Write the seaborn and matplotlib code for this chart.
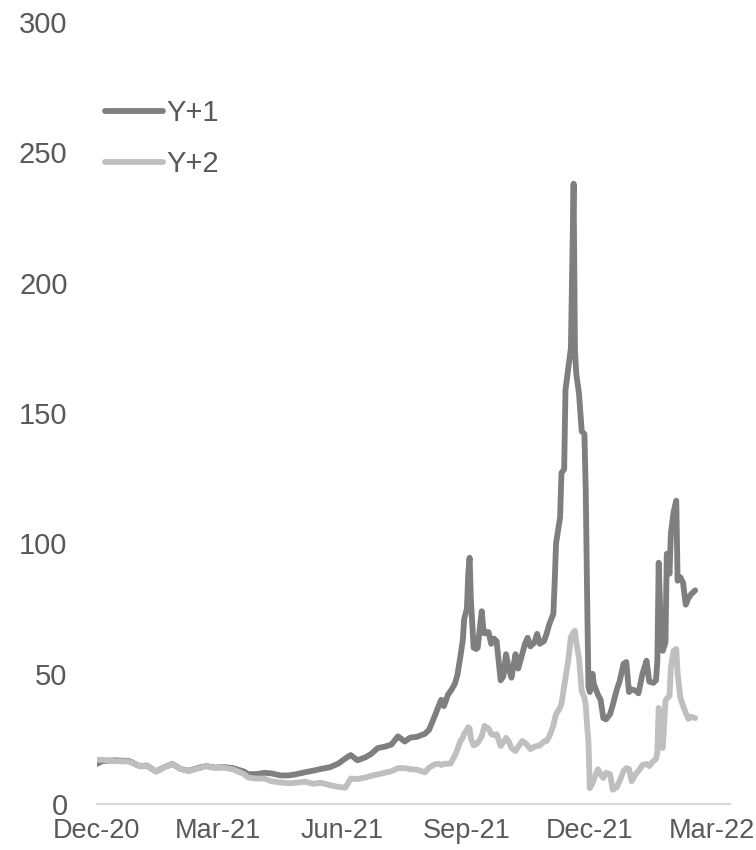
import pandas as pd
import matplotlib.pyplot as plt
import matplotlib.dates as mdates
import seaborn as sns

# values
dates = [
    '2020-12-01', '2020-12-05', '2020-12-14', '2020-12-25', '2021-01-02', '2021-01-07',
    '2021-01-14', '2021-01-20', '2021-01-26', '2021-02-01', '2021-02-07', '2021-02-15',
    '2021-02-20', '2021-02-26', '2021-03-05', '2021-03-12', '2021-03-20', '2021-03-23',
    '2021-03-29', '2021-04-04', '2021-04-09', '2021-04-16', '2021-04-22', '2021-04-28',
    '2021-05-04', '2021-05-10', '2021-05-16', '2021-05-23', '2021-05-29', '2021-06-03',
    '2021-06-07', '2021-06-12', '2021-06-18', '2021-06-22', '2021-06-27', '2021-07-02',
    '2021-07-07', '2021-07-12', '2021-07-17', '2021-07-21', '2021-07-26', '2021-08-01',
    '2021-08-04', '2021-08-08', '2021-08-11', '2021-08-13', '2021-08-15', '2021-08-18',
    '2021-08-20', '2021-08-23', '2021-08-25', '2021-08-27', '2021-08-29', '2021-08-30',
    '2021-09-01', '2021-09-02', '2021-09-03', '2021-09-04', '2021-09-06', '2021-09-08',
    '2021-09-09', '2021-09-12', '2021-09-13', '2021-09-14', '2021-09-17', '2021-09-19',
    '2021-09-21', '2021-09-23', '2021-09-26', '2021-09-28', '2021-09-30', '2021-10-02',
    '2021-10-04', '2021-10-07', '2021-10-09', '2021-10-12', '2021-10-14', '2021-10-16',
    '2021-10-18', '2021-10-21', '2021-10-23', '2021-10-25', '2021-10-28', '2021-10-30',
    '2021-11-01', '2021-11-04', '2021-11-05', '2021-11-06', '2021-11-09', '2021-11-10',
    '2021-11-12', '2021-11-13', '2021-11-15', '2021-11-17', '2021-11-19', '2021-11-20',
    '2021-11-21', '2021-11-23', '2021-11-25', '2021-11-27', '2021-11-28', '2021-11-29',
    '2021-11-30', '2021-12-01', '2021-12-03', '2021-12-04', '2021-12-07', '2021-12-09',
    '2021-12-11', '2021-12-13', '2021-12-16', '2021-12-18', '2021-12-21', '2021-12-23',
    '2021-12-26', '2021-12-28', '2021-12-30', '2022-01-01', '2022-01-04', '2022-01-06',
    '2022-01-09', '2022-01-12', '2022-01-14', '2022-01-17', '2022-01-19', '2022-01-20',
    '2022-01-21', '2022-01-23', '2022-01-24', '2022-01-26', '2022-01-27', '2022-01-29',
    '2022-01-30', '2022-02-01', '2022-02-03', '2022-02-04', '2022-02-06', '2022-02-08',
    '2022-02-10', '2022-02-12', '2022-02-14', '2022-02-17',
]

y1 = [
    15.4, 16.5, 16.8, 16.5, 14.5, 14.8,
    12.5, 14.2, 15.4, 13.5, 12.8, 14.0,
    14.6, 14.0, 14.2, 13.8, 12.5, 11.5,
    11.5, 12.0, 11.8, 11.0, 11.0, 11.5,
    12.2, 12.8, 13.5, 14.2, 15.6, 17.5,
    18.8, 16.8, 18.0, 19.2, 21.5, 22.0,
    22.8, 26.0, 24.0, 25.5, 25.8, 27.0,
    28.5, 33.5, 37.5, 40.0, 37.6, 42.0,
    43.4, 46.0, 49.5, 56.0, 63.0, 71.0,
    75.0, 88.0, 94.5, 78.0, 60.0, 59.5,
    60.0, 74.0, 68.0, 65.5, 66.0, 61.5,
    63.5, 62.5, 47.5, 49.0, 57.5, 52.0,
    48.5, 57.5, 52.0, 57.6, 61.5, 63.8,
    60.5, 62.0, 65.3, 61.5, 62.5, 65.3,
    69.0, 73.0, 85.0, 100.0, 110.0, 127.0,
    128.5, 159.0, 167.0, 175.0, 238.0, 174.0,
    165.0, 157.5, 143.0, 142.0, 120.0, 80.0,
    45.0, 43.0, 50.0, 46.0, 42.0, 40.0,
    33.0, 32.5, 34.5, 38.0, 44.0, 47.0,
    53.8, 54.5, 43.0, 44.0, 43.5, 42.5,
    50.0, 55.0, 47.0, 46.5, 47.5, 55.0,
    92.6, 60.0, 58.8, 62.0, 96.0, 88.4,
    103.7, 112.0, 116.4, 85.7, 87.0, 85.0,
    76.5, 79.0, 80.5, 82.0,
]

y2 = [
    17.0, 17.0, 16.5, 16.3, 14.5, 14.8,
    12.5, 14.2, 15.4, 13.5, 12.7, 13.8,
    14.6, 14.0, 14.0, 13.3, 11.5, 10.2,
    9.8, 9.8, 8.8, 8.3, 8.0, 8.2,
    8.6, 7.8, 8.2, 7.2, 6.6, 6.3,
    9.8, 9.6, 10.2, 10.8, 11.4, 12.0,
    12.6, 13.8, 13.8, 13.4, 13.2, 12.2,
    14.0, 15.2, 15.5, 15.0, 15.4, 15.5,
    15.6, 18.5, 21.0, 24.0, 25.5, 27.0,
    28.5, 29.5, 29.0, 25.0, 22.5, 23.0,
    23.5, 26.0, 28.0, 30.0, 29.0, 26.9,
    26.5, 26.8, 22.3, 23.8, 25.4, 24.0,
    21.5, 20.4, 22.0, 24.2, 23.5, 22.5,
    21.1, 22.0, 22.3, 22.5, 24.0, 24.2,
    26.0, 30.0, 32.5, 34.5, 37.0, 38.5,
    45.0, 48.4, 55.0, 64.0, 66.0, 66.5,
    62.0, 56.0, 43.4, 40.8, 38.0, 30.0,
    24.0, 6.1, 8.0, 9.5, 13.4, 11.5,
    10.0, 12.0, 11.5, 5.5, 6.5, 8.8,
    12.7, 13.8, 13.5, 8.8, 11.5, 12.7,
    15.0, 15.4, 14.6, 16.5, 17.3, 20.0,
    36.9, 22.0, 21.5, 39.6, 40.5, 41.5,
    52.3, 58.8, 59.5, 50.0, 41.0, 37.7,
    35.0, 32.7, 33.5, 33.0,
]

tick_dates = ['2020-12-01', '2021-03-01', '2021-06-01', '2021-09-01', '2021-12-01', '2022-03-01']
y_ticks = [0, 50, 100, 150, 200, 250, 300]

df = pd.DataFrame({'date': pd.to_datetime(dates), 'Y+1': y1, 'Y+2': y2})
long_df = df.melt(id_vars='date', var_name='series', value_name='value')

sns.set_theme(style='white')
plt.rcParams['font.family'] = ['Liberation Sans', 'DejaVu Sans']

text_col = '#595959'
fig, ax = plt.subplots(figsize=(7.56, 8.5), dpi=100)
fig.subplots_adjust(left=0.128, right=0.966, bottom=0.054, top=0.974)

sns.lineplot(data=long_df, x='date', y='value', hue='series',
             palette={'Y+1': '#7f7f7f', 'Y+2': '#bfbfbf'},
             linewidth=4.2, solid_capstyle='round', solid_joinstyle='round', ax=ax)

ax.set_ylim(0, 300)
ax.set_xlim(pd.Timestamp('2020-12-01'), pd.Timestamp('2022-03-15'))
ax.set_yticks(y_ticks)
ax.set_xticks(pd.to_datetime(tick_dates))
ax.xaxis.set_major_formatter(mdates.DateFormatter('%b-%y'))
ax.tick_params(axis='both', length=0, labelcolor=text_col)
ax.tick_params(axis='y', labelsize=21, pad=21)
ax.tick_params(axis='x', labelsize=19.5, pad=10)
ax.set_xlabel('')
ax.set_ylabel('')

for s in ['left', 'right', 'top']:
    ax.spines[s].set_visible(False)
ax.spines['bottom'].set_color('#d9d9d9')
ax.spines['bottom'].set_linewidth(1.5)

leg = ax.legend(loc='upper left', bbox_to_anchor=(0.0125, 0.902), frameon=False,
                fontsize=21, handlelength=2.0, handletextpad=0.1,
                labelspacing=0.8, borderpad=0, borderaxespad=0)
for t in leg.get_texts():
    t.set_color(text_col)
for h in leg.get_lines():
    h.set_linewidth(4.2)

fig.savefig('out.png', dpi=100)
